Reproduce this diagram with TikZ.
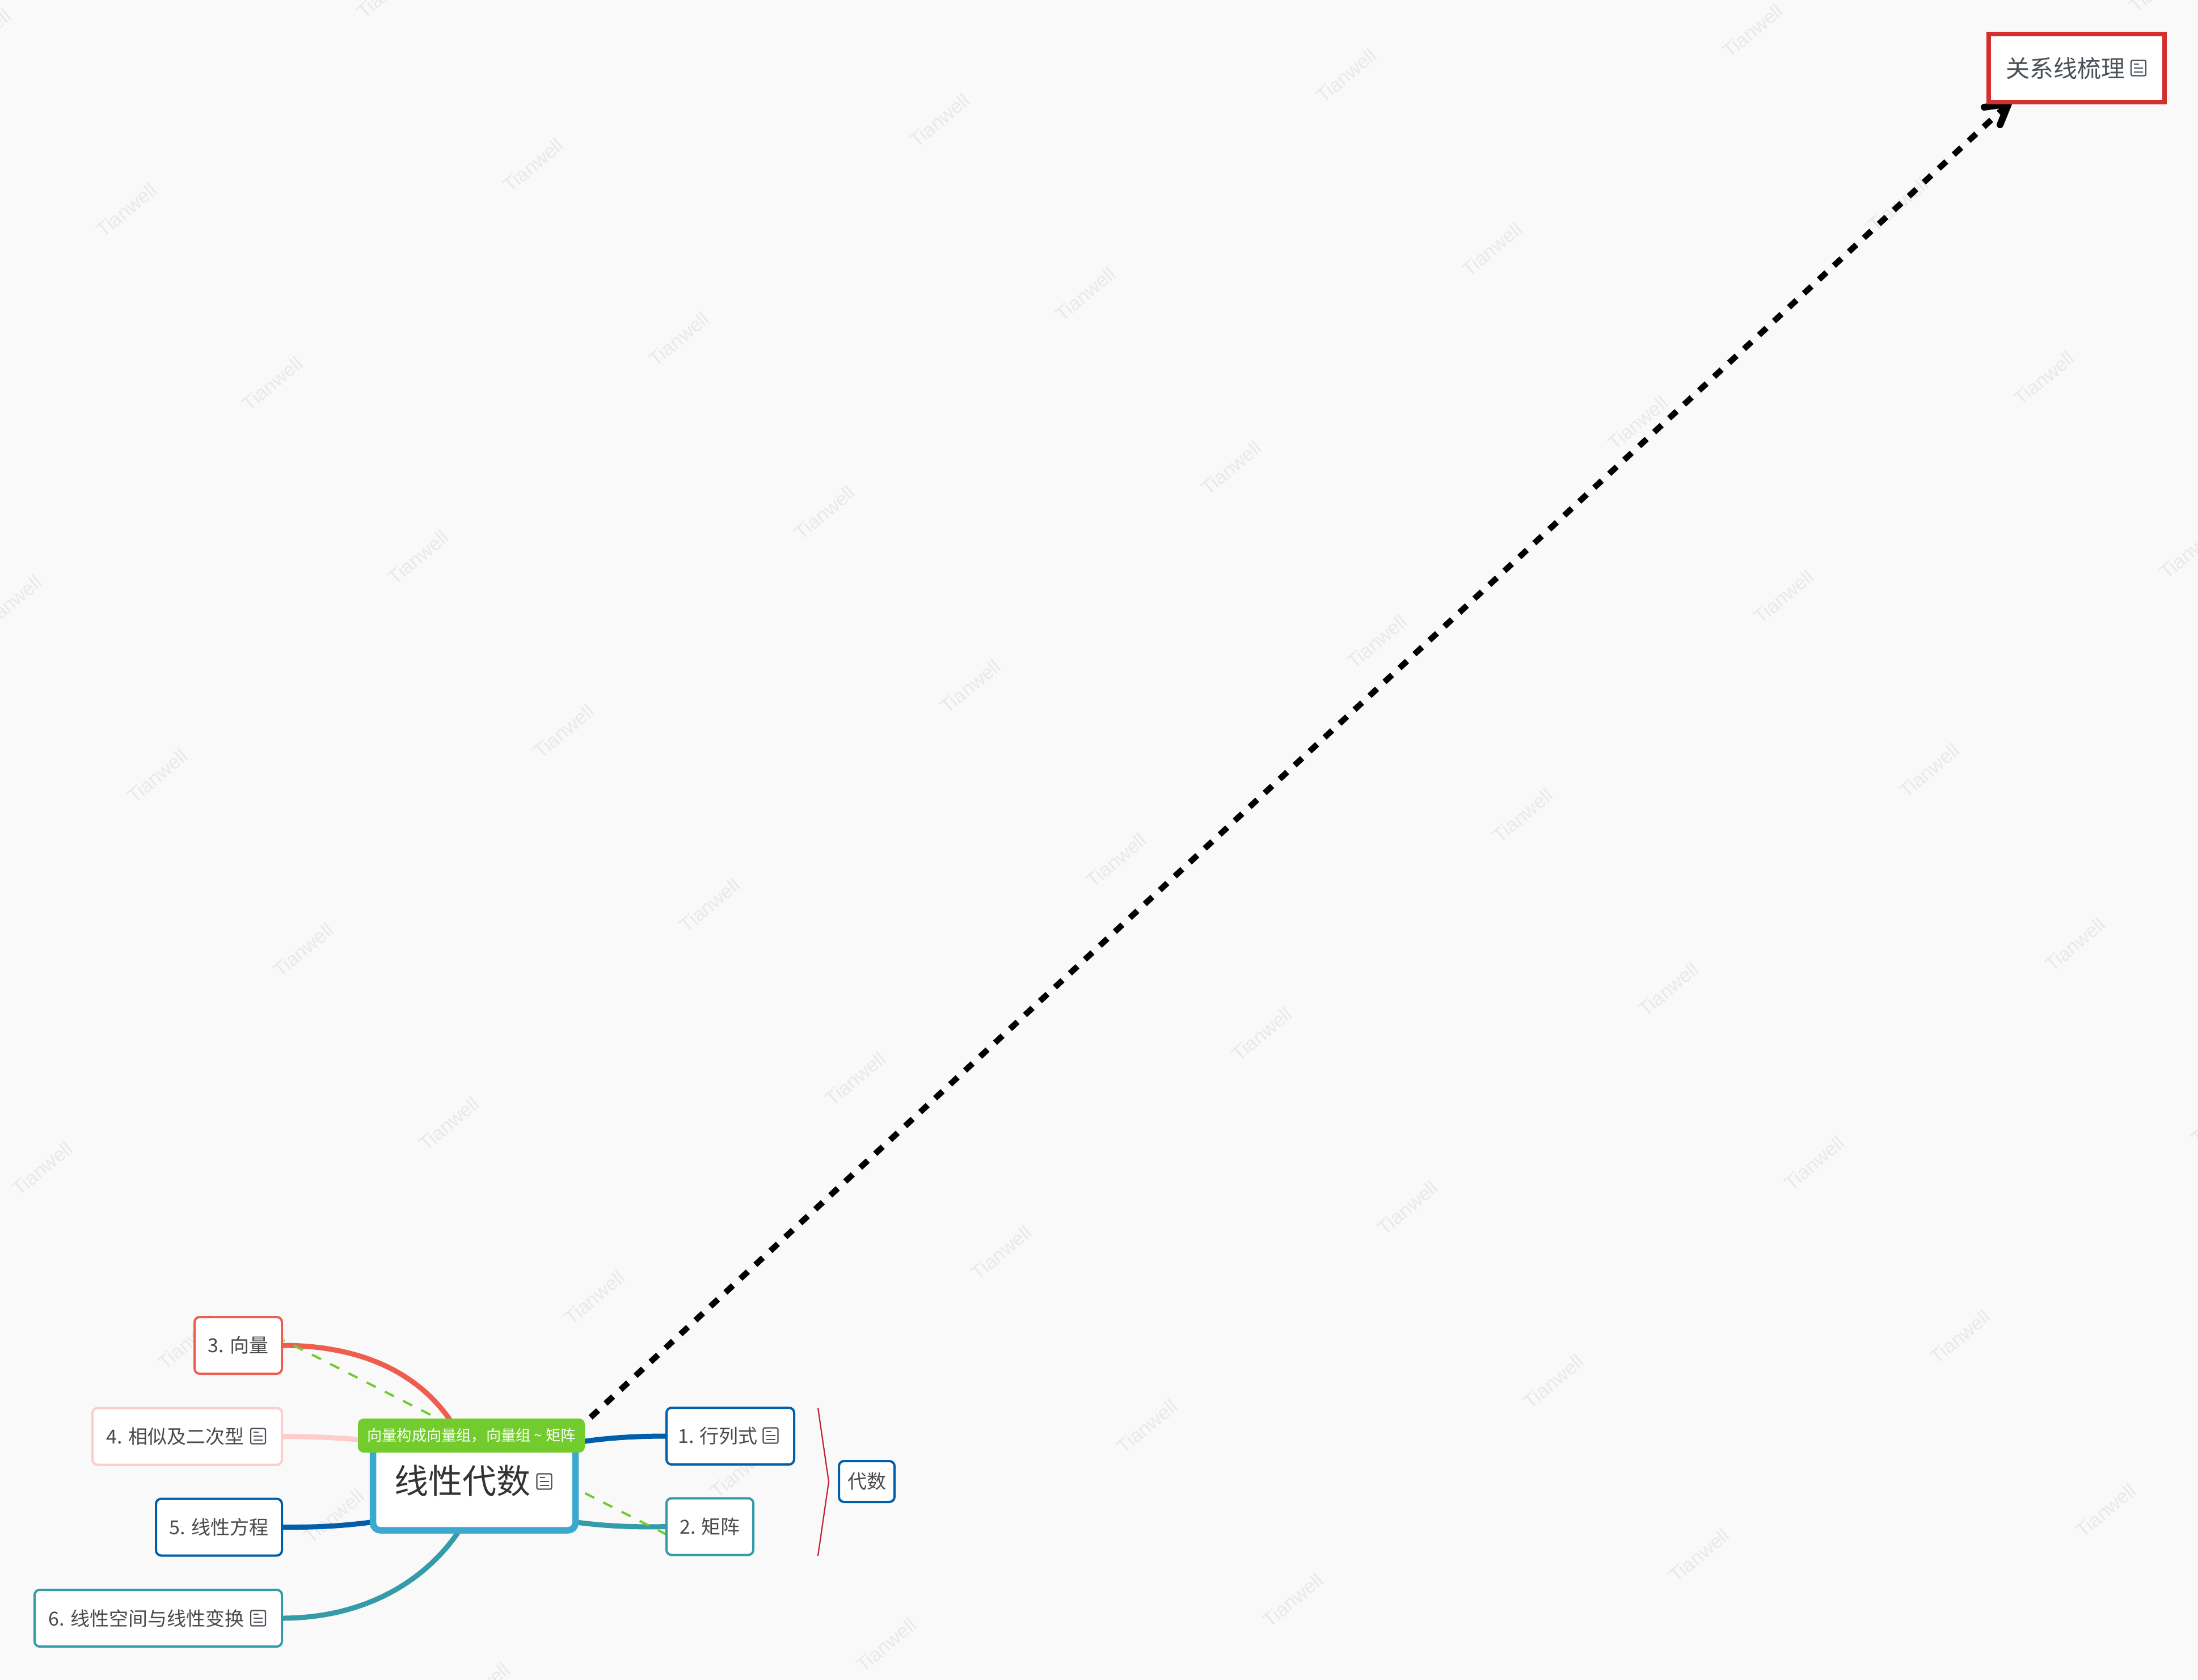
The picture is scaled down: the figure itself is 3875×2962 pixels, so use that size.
\documentclass[tikz,border=0pt]{standalone}
\usepackage{fontspec}
\setmainfont{Noto Sans CJK SC}
\newfontfamily\wmfont{Liberation Sans}
\pgfdeclarelayer{wm}
\pgfdeclarelayer{edges}
\pgfsetlayers{wm,edges,main}
\definecolor{bgc}{HTML}{F9F9F9}
\definecolor{wmc}{HTML}{E9E9E9}
\definecolor{cred}{HTML}{EE5E4F}
\definecolor{cpink}{HTML}{FFCCCC}
\definecolor{cblue}{HTML}{005EAA}
\definecolor{cteal}{HTML}{339CA8}
\definecolor{ccentral}{HTML}{3AA8CF}
\definecolor{cgreen}{HTML}{73CC2E}
\definecolor{cbox}{HTML}{D32F2F}
\definecolor{cbrace}{HTML}{C1232B}
\definecolor{ctext}{HTML}{4A4A4A}
\definecolor{cicon}{HTML}{4A5058}
\newcommand{\iconroom}[1]{\hspace{#1}\mbox{}}
\tikzset{
  x=1pt,y=-1pt,
  wmark/.style={text=wmc,rotate=40,font=\wmfont\fontsize{34.5}{40}\selectfont,inner sep=0pt},
  topic/.style={draw,fill=white,line width=4pt,rounded corners=9pt,outer sep=0pt,inner sep=0pt,
    minimum height=100pt,text=ctext,font=\fontsize{34}{40}\selectfont},
  branch/.style={line width=9pt},
  relation/.style={cgreen,line width=4pt,dash pattern=on 18pt off 18pt,dash phase=16pt},
  noteicon/.pic={
    \draw[cicon,line width=2.2pt,rounded corners=2.5pt] (-13,-13.5) rectangle (13,13.5);
    \draw[cicon,line width=2pt] (-8,-7) -- (1,-7) (-8,0) -- (8,0) (-8,7) -- (8,7);
  },
}
\begin{document}
\begin{tikzpicture}
\useasboundingbox (0,0) rectangle (3875,2962);
\begin{pgfonlayer}{wm}
  \fill[bgc] (0,0) rectangle (3875,2962);
  \begin{scope}
    \clip (0,0) rectangle (3875,2962);
    \foreach \i in {-3,...,6}{
      \foreach \j in {-2,...,9}{
        \pgfmathsetmacro{\wx}{223+716.7*\i+257*\j}
        \pgfmathsetmacro{\wy}{370-79*\i+306.4*\j}
        \pgfmathparse{(\wx>-70)&&(\wx<3945)&&(\wy>-60)&&(\wy<3020)?1:0}
        \ifnum\pgfmathresult=1
          \node[wmark] (wm\i\j) at (\wx,\wy) {Tianwell};
        \fi
      }
    }
  \end{scope}
\end{pgfonlayer}

% nodes
\node[topic,draw=cred,minimum width=154pt] (n3) at (420,2372) {3. 向量};
\node[topic,draw=cpink,minimum width=334pt] (n4) at (330,2532.5) {4. 相似及二次型\iconroom{42pt}};
\node[topic,draw=cblue,minimum width=222pt] (n5) at (386,2692.5) {5. 线性方程};
\node[topic,draw=cteal,minimum width=436pt] (n6) at (279,2853) {6. 线性空间与线性变换\iconroom{42pt}};
\node[topic,draw=cblue,minimum width=225pt] (n1) at (1287.5,2532) {1. 行列式\iconroom{44pt}};
\node[topic,draw=cteal,minimum width=153pt] (n2) at (1251.5,2691.5) {2. 矩阵};
\node[topic,draw=cblue,minimum width=98pt,minimum height=72pt] (alg) at (1528,2612) {代数};
\node[topic,draw=ccentral,line width=11.5pt,rounded corners=13pt,minimum width=357pt,minimum height=174pt,
  text=black!80,font=\fontsize{60}{70}\selectfont] (root) at (836,2611) {线性代数\iconroom{41pt}};
\node[fill=cgreen,rounded corners=10pt,minimum width=400pt,minimum height=60pt,inner sep=0pt,outer sep=0pt,
  text=white,font=\fontsize{26.2}{30}\selectfont] (rel) at (831,2531) {向量构成向量组，向量组 \textasciitilde{} 矩阵};
\node[draw=cbox,fill=white,line width=8pt,minimum width=310pt,minimum height=120pt,inner sep=0pt,outer sep=0pt,
  text=cicon,font=\fontsize{42}{48}\selectfont] (sum) at (3661,120) {关系线梳理\iconroom{40pt}};

% icons
\pic at (455,2532) {noteicon};
\pic at (455,2853) {noteicon};
\pic at (1358.5,2531) {noteicon};
\pic at (959.5,2612) {noteicon};
\pic at (3770,120) {noteicon};

% connectors
\coordinate (c1) at (1005,2545);
\coordinate (c2) at (1010,2683);
\coordinate (d3) at (500,2363);
\coordinate (d2) at (1253,2745);
\coordinate (as) at (1026,2513);
\coordinate (at) at (3541,183);
\coordinate (b1) at (3498,189);
\coordinate (b2) at (3526,220);
\coordinate (br1) at (1442,2482);
\coordinate (br2) at (1461,2612.5);
\coordinate (br3) at (1442,2743);
\begin{pgfonlayer}{edges}
  \draw[branch,cred] (n3.east) .. controls (650,2372) and (760,2430) .. (815,2540);
  \draw[branch,cpink] (n4.east) .. controls (570,2533) and (620,2536) .. (665,2542);
  \draw[branch,cblue] (n5.east) .. controls (560,2693) and (610,2690) .. (660,2683);
  \draw[branch,cteal] (n6.east) .. controls (640,2853) and (750,2790) .. (812,2695);
  \draw[branch,cblue] (c1) .. controls (1060,2536) and (1110,2532) .. (n1.west);
  \draw[branch,cteal] (c2) .. controls (1060,2690) and (1110,2693) .. (n2.west);
  \draw[relation] (d3) -- (d2);
  \draw[black,line width=10.5pt,dash pattern=on 18pt off 18pt,dash phase=15.3pt] (as) -- (at);
  \draw[black,line width=12pt,line cap=round,line join=round] (b1) -- (at) -- (b2);
  \draw[cbrace,line width=2.2pt] (br1) -- (br2) -- (br3);
\end{pgfonlayer}
\end{tikzpicture}
\end{document}
